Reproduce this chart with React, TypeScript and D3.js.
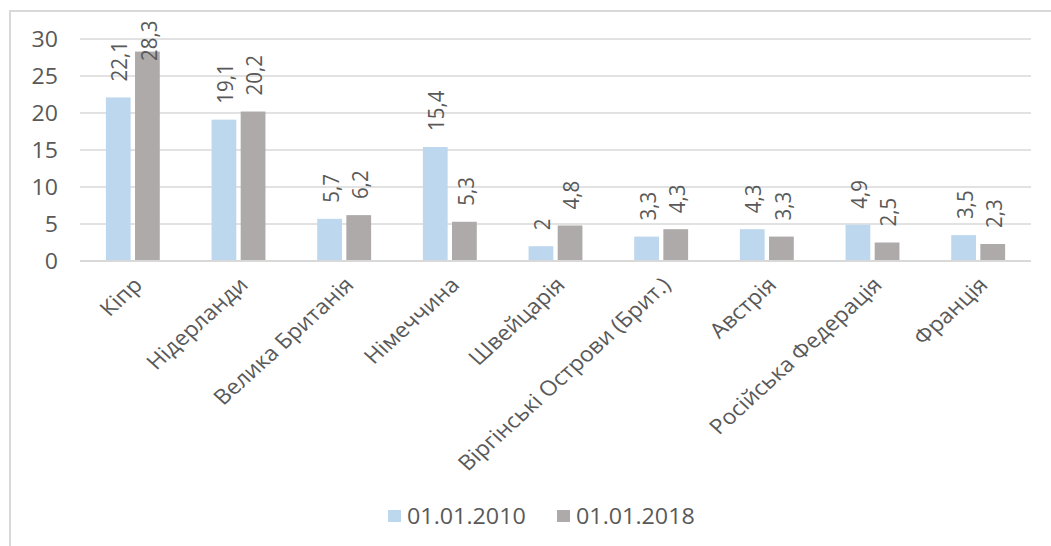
import React from 'react'
import { scaleBand, scaleLinear } from 'd3'

const countries = ['Кіпр', 'Нідерланди', 'Велика Британія', 'Німеччина', 'Швейцарія', 'Віргінські Острови (Брит.)', 'Австрія', 'Російська Федерація', 'Франція']
const values2010 = [22.1, 19.1, 5.7, 15.4, 2, 3.3, 4.3, 4.9, 3.5]
const values2018 = [28.3, 20.2, 6.2, 5.3, 4.8, 4.3, 3.3, 2.5, 2.3]
const seriesNames = ['01.01.2010', '01.01.2018']
const yTicks = [0, 5, 10, 15, 20, 25, 30]

const W = 1051
const H = 546
const colors = ['#BDD7EE', '#AEAAAA']
const textColor = '#595959'
const font = '"Open Sans", "Noto Sans", sans-serif'
// the source image is a little stretched sideways
const sx = 1.1

export default function App() {
    const left = 80, right = 1031, top = 39, bottom = 261

    const x = scaleBand().domain(countries).range([left, right]).paddingInner(0.49).paddingOuter(0.245)
    const x1 = scaleBand().domain(seriesNames).range([0, x.bandwidth()]).paddingInner(0.15)
    const y = scaleLinear().domain([0, 30]).range([bottom, top])

    const series = [values2010, values2018]

    const fmt = (v: number) => String(v).replace('.', ',')

    return (
        <svg width={W} height={H} style={{ position: 'absolute', left: 0, top: 0, background: '#fff' }} fontFamily={font}>
            <rect x={10} y={11} width={W + 20} height={H + 20} fill="#fff" stroke="#D9D9D9" strokeWidth={2} />
            {yTicks.map(t => (
                <g key={t}>
                    <line x1={left} x2={right} y1={y(t)} y2={y(t)} stroke="#D9D9D9" strokeWidth={1.5} />
                    <text transform={`translate(${left - 22},${y(t)}) scale(${sx},1)`} dy="0.36em" textAnchor="end" fontSize={21} fill={textColor}>{t}</text>
                </g>
            ))}
            {countries.map((c, i) => (
                <g key={c}>
                    {series.map((vals, s) => {
                        const bx = (x(c) as number) + (x1(seriesNames[s]) as number)
                        const bw = x1.bandwidth()
                        const by = y(vals[i])
                        const ly = Math.max(by - 16, 61)
                        return (
                            <g key={s}>
                                <rect x={bx} y={by} width={bw} height={bottom - by} fill={colors[s]} />
                                <text transform={`translate(${bx + bw / 2 + 1},${ly}) scale(${sx},1) rotate(-90)`} dy="0.36em" fontSize={20.5} fill={textColor}>{fmt(vals[i])}</text>
                            </g>
                        )
                    })}
                    <text transform={`translate(${(x(c) as number) + x.bandwidth() / 2 + 5},${bottom + 20}) scale(${sx},1) rotate(-45)`} textAnchor="end" dy="0.36em" fontSize={21} fill={textColor}>{c}</text>
                </g>
            ))}
            <line x1={left} x2={right} y1={bottom} y2={bottom} stroke="#D9D9D9" strokeWidth={2} />
            {seriesNames.map((n, s) => (
                <g key={n} transform={`translate(${388 + s * 169},516)`}>
                    <rect x={0} y={-6} width={13} height={12} fill={colors[s]} />
                    <text transform={`translate(19,0) scale(1.06,1)`} dy="0.36em" fontSize={22} fill={textColor}>{n}</text>
                </g>
            ))}
        </svg>
    )
}
